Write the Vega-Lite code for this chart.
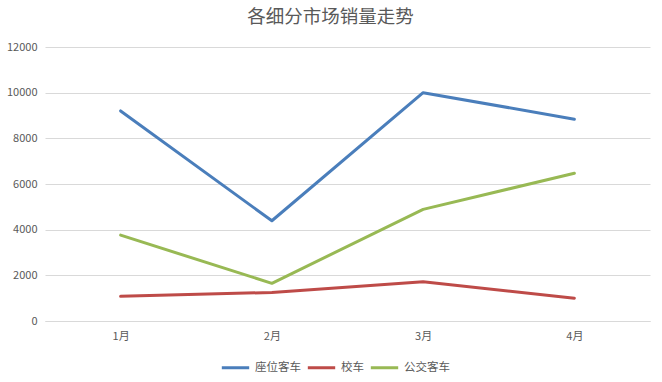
{
  "$schema": "https://vega.github.io/schema/vega-lite/v6.json",
  "width": 605,
  "height": 274,
  "autosize": {"type": "none"},
  "padding": {"left": 45, "top": 47, "right": 12, "bottom": 61},
  "background": "white",
  "title": {
    "text": "各细分市场销量走势",
    "font": "Noto Sans CJK SC",
    "fontSize": 18.5,
    "fontWeight": "normal",
    "color": "#595959",
    "anchor": "middle",
    "dx": -17,
    "offset": 15
  },
  "config": {
    "view": {"stroke": null},
    "font": "Noto Sans CJK SC"
  },
  "data": {
    "values": [
      {"month": "1月", "series": "座位客车", "sales": 9200},
      {"month": "2月", "series": "座位客车", "sales": 4390},
      {"month": "3月", "series": "座位客车", "sales": 10000},
      {"month": "4月", "series": "座位客车", "sales": 8840},
      {"month": "1月", "series": "校车", "sales": 1080},
      {"month": "2月", "series": "校车", "sales": 1250},
      {"month": "3月", "series": "校车", "sales": 1720},
      {"month": "4月", "series": "校车", "sales": 1000},
      {"month": "1月", "series": "公交客车", "sales": 3760},
      {"month": "2月", "series": "公交客车", "sales": 1650},
      {"month": "3月", "series": "公交客车", "sales": 4890},
      {"month": "4月", "series": "公交客车", "sales": 6470}
    ]
  },
  "mark": {"type": "line", "strokeWidth": 3, "strokeCap": "round", "strokeJoin": "round"},
  "encoding": {
    "x": {
      "field": "month",
      "type": "ordinal",
      "sort": ["1月", "2月", "3月", "4月"],
      "scale": {"type": "point", "padding": 0.5},
      "axis": {
        "title": null,
        "labelAngle": 0,
        "ticks": false,
        "domain": true,
        "domainColor": "#d9d9d9",
        "grid": false,
        "labelColor": "#595959",
        "labelFontSize": 11,
        "labelPadding": 9
      }
    },
    "y": {
      "field": "sales",
      "type": "quantitative",
      "scale": {"domain": [0, 12000], "nice": false},
      "axis": {
        "title": null,
        "values": [0, 2000, 4000, 6000, 8000, 10000, 12000],
        "format": "d",
        "ticks": false,
        "domain": false,
        "grid": true,
        "gridColor": "#d9d9d9",
        "gridWidth": 1,
        "labelColor": "#595959",
        "labelFontSize": 11,
        "labelPadding": 8
      }
    },
    "color": {
      "field": "series",
      "type": "nominal",
      "sort": ["座位客车", "校车", "公交客车"],
      "scale": {
        "domain": ["座位客车", "校车", "公交客车"],
        "range": ["#4a7ebb", "#be4b48", "#98b954"]
      },
      "legend": {
        "title": null,
        "orient": "none",
        "legendX": 175,
        "legendY": 305,
        "direction": "horizontal",
        "symbolType": "stroke",
        "symbolSize": 750,
        "symbolStrokeWidth": 3,
        "labelFontSize": 11.5,
        "labelColor": "#595959",
        "columnPadding": 0,
        "labelOffset": 4
      }
    }
  }
}
